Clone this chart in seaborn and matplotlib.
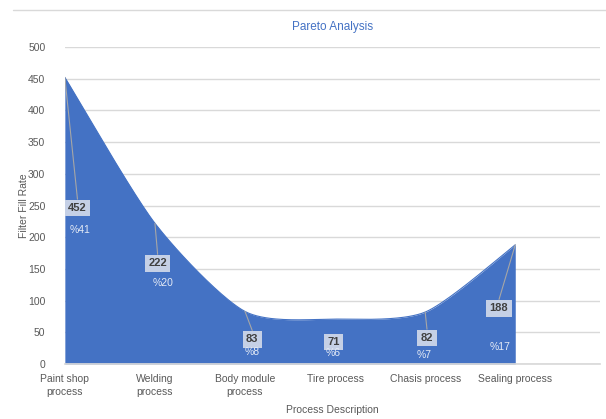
import numpy as np
import matplotlib
matplotlib.use("Agg")
import matplotlib.pyplot as plt
import seaborn as sns
from matplotlib.lines import Line2D

processes = ["Paint shop\nprocess", "Welding\nprocess", "Body module\nprocess",
             "Tire process", "Chasis process", "Sealing process"]
fill_rate = [452, 222, 83, 71, 82, 188]
share_labels = ["%41", "%20", "%8", "%6", "%7", "%17"]

# label placement (data units), value box and percent text
value_pos = [(0.14, 246), (1.03, 159), (2.08, 39), (2.98, 35), (4.02, 41), (4.82, 88)]
share_pos = [(0.17, 211), (1.09, 128), (2.08, 19), (2.98, 17), (3.99, 14), (4.83, 27)]
leader = [True, True, True, False, True, True]

sns.set_theme(style="white")
plt.rcParams["font.family"] = ["Liberation Sans", "DejaVu Sans"]

BLUE = "#4472C4"
GREY = "#595959"


def smooth_curve(y, steps=40, k=8.0):
    # cardinal-spline smoothing, a bit tighter than Catmull-Rom
    y = np.asarray(y, dtype=float)
    x = np.arange(len(y), dtype=float)
    px = np.concatenate([[x[0]], x, [x[-1]]])
    py = np.concatenate([[y[0]], y, [y[-1]]])
    xs, ys = [], []
    t = np.linspace(0, 1, steps)
    for i in range(1, len(px) - 2):
        p0, p1, p2, p3 = [np.array([px[j], py[j]]) for j in range(i - 1, i + 3)]
        c1 = p1 + (p2 - p0) / k
        c2 = p2 - (p3 - p1) / k
        pts = ((1 - t) ** 3)[:, None] * p1 + (3 * (1 - t) ** 2 * t)[:, None] * c1 \
            + (3 * (1 - t) * t ** 2)[:, None] * c2 + (t ** 3)[:, None] * p2
        xs.append(pts[:, 0])
        ys.append(pts[:, 1])
    return np.concatenate(xs), np.concatenate(ys)


fig = plt.figure(figsize=(6.06, 4.19), dpi=100)
ax = fig.add_axes([0.107, 0.131, 0.883, 0.757])

cx, cy = smooth_curve(fill_rate)
sns.lineplot(x=cx, y=cy, ax=ax, color=BLUE, linewidth=0.8, sort=False, zorder=2)
ax.fill_between(cx, 0, cy, color=BLUE, linewidth=0, zorder=2)

for i, v in enumerate(fill_rate):
    vx, vy = value_pos[i]
    if leader[i]:
        ax.plot([i, vx], [v, vy + 14], color="#a6a6a6", linewidth=0.8, zorder=3)
    ax.text(vx, vy, str(v), ha="center", va="center", fontsize=8, color="#404040",
            fontweight="bold", zorder=4,
            bbox=dict(boxstyle="square,pad=0.3", facecolor="#c5d0e6", edgecolor="none"))
    sx, sy = share_pos[i]
    ax.text(sx, sy, share_labels[i], ha="center", va="center", fontsize=7.5,
            color="#e4eaf5", zorder=4)

ax.set_xlim(0, 5.94)
ax.set_ylim(0, 500)
ax.set_yticks(range(0, 501, 50))
ax.set_xticks(range(len(processes)))
ax.set_xticklabels(processes, fontsize=7.5, color=GREY, linespacing=1.35)
ax.tick_params(axis="y", labelsize=7.5, labelcolor=GREY, length=0, pad=14)
ax.tick_params(axis="x", length=0, pad=7)
ax.grid(axis="y", color="#d9d9d9", linewidth=1, zorder=0)
ax.set_axisbelow(True)
for s in ["top", "right", "left"]:
    ax.spines[s].set_visible(False)
ax.spines["bottom"].set_color("#d9d9d9")

ax.set_ylabel("Filter Fill Rate", fontsize=7.5, color=GREY, labelpad=-1)
ax.set_xlabel("Process Description", fontsize=7.5, color=GREY, labelpad=6)
ax.set_title("Pareto Analysis", fontsize=8.5, color=BLUE, pad=12)

fig.add_artist(Line2D([0.021, 1.0], [0.976, 0.976], color="#d9d9d9", linewidth=1))

fig.savefig("out.png", dpi=100)
